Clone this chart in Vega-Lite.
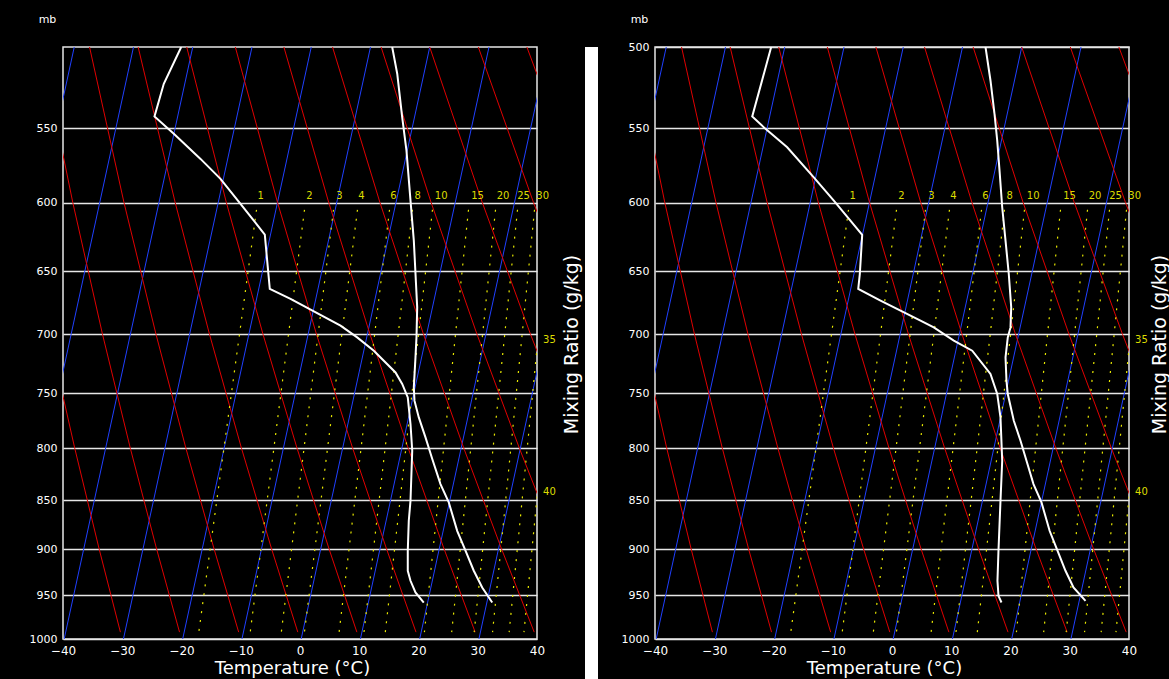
{
  "$schema": "https://vega.github.io/schema/vega-lite/v6.json",
  "background": "black",
  "padding": {"left": 28, "top": 12, "right": 0, "bottom": 0},
  "spacing": 0,
  "bounds": "flush",
  "config": {
    "font": "DejaVu Sans",
    "view": {"stroke": null},
    "axis": {"labelColor": "white", "titleColor": "white", "labelFont": "DejaVu Sans", "titleFont": "DejaVu Sans", "titleFontWeight": "normal", "labelFontSize": 11, "ticks": false, "domain": false, "grid": false, "labelOverlap": false, "labelFlush": false}
  },
  "datasets": {
    "bg": [
      {"k":"iso","id":"i-60","p":1000,"x":-59.8},{"k":"iso","id":"i-60","p":500,"x":-38.1},
      {"k":"iso","id":"i-50","p":1000,"x":-49.8},{"k":"iso","id":"i-50","p":500,"x":-28.1},
      {"k":"iso","id":"i-40","p":1000,"x":-39.8},{"k":"iso","id":"i-40","p":500,"x":-18.1},
      {"k":"iso","id":"i-30","p":1000,"x":-29.8},{"k":"iso","id":"i-30","p":500,"x":-8.1},
      {"k":"iso","id":"i-20","p":1000,"x":-19.8},{"k":"iso","id":"i-20","p":500,"x":1.9},
      {"k":"iso","id":"i-10","p":1000,"x":-9.8},{"k":"iso","id":"i-10","p":500,"x":11.9},
      {"k":"iso","id":"i0","p":1000,"x":0.2},{"k":"iso","id":"i0","p":500,"x":21.9},
      {"k":"iso","id":"i10","p":1000,"x":10.2},{"k":"iso","id":"i10","p":500,"x":31.9},
      {"k":"iso","id":"i20","p":1000,"x":20.2},{"k":"iso","id":"i20","p":500,"x":41.9},
      {"k":"iso","id":"i30","p":1000,"x":30.2},{"k":"iso","id":"i30","p":500,"x":51.9},
      {"k":"iso","id":"i40","p":1000,"x":40.2},{"k":"iso","id":"i40","p":500,"x":61.9},

      {"k":"dry","id":"d-30","p":992,"x":-30.31},{"k":"dry","id":"d-30","p":900,"x":-33.90},{"k":"dry","id":"d-30","p":800,"x":-38.01},{"k":"dry","id":"d-30","p":700,"x":-42.36},{"k":"dry","id":"d-30","p":600,"x":-46.99},{"k":"dry","id":"d-30","p":500,"x":-51.93},
      {"k":"dry","id":"d-20","p":992,"x":-20.33},{"k":"dry","id":"d-20","p":900,"x":-24.20},{"k":"dry","id":"d-20","p":800,"x":-28.63},{"k":"dry","id":"d-20","p":700,"x":-33.33},{"k":"dry","id":"d-20","p":600,"x":-38.34},{"k":"dry","id":"d-20","p":500,"x":-43.72},
      {"k":"dry","id":"d-10","p":992,"x":-10.35},{"k":"dry","id":"d-10","p":900,"x":-14.50},{"k":"dry","id":"d-10","p":800,"x":-19.25},{"k":"dry","id":"d-10","p":700,"x":-24.30},{"k":"dry","id":"d-10","p":600,"x":-29.70},{"k":"dry","id":"d-10","p":500,"x":-35.52},
      {"k":"dry","id":"d0","p":992,"x":-0.37},{"k":"dry","id":"d0","p":900,"x":-4.79},{"k":"dry","id":"d0","p":800,"x":-9.87},{"k":"dry","id":"d0","p":700,"x":-15.27},{"k":"dry","id":"d0","p":600,"x":-21.06},{"k":"dry","id":"d0","p":500,"x":-27.32},
      {"k":"dry","id":"d10","p":992,"x":9.60},{"k":"dry","id":"d10","p":900,"x":4.91},{"k":"dry","id":"d10","p":800,"x":-0.49},{"k":"dry","id":"d10","p":700,"x":-6.24},{"k":"dry","id":"d10","p":600,"x":-12.42},{"k":"dry","id":"d10","p":500,"x":-19.12},
      {"k":"dry","id":"d20","p":992,"x":19.58},{"k":"dry","id":"d20","p":900,"x":14.61},{"k":"dry","id":"d20","p":800,"x":8.90},{"k":"dry","id":"d20","p":700,"x":2.79},{"k":"dry","id":"d20","p":600,"x":-3.78},{"k":"dry","id":"d20","p":500,"x":-10.92},
      {"k":"dry","id":"d30","p":992,"x":29.56},{"k":"dry","id":"d30","p":900,"x":24.32},{"k":"dry","id":"d30","p":800,"x":18.28},{"k":"dry","id":"d30","p":700,"x":11.82},{"k":"dry","id":"d30","p":600,"x":4.86},{"k":"dry","id":"d30","p":500,"x":-2.72},
      {"k":"dry","id":"d40","p":992,"x":39.53},{"k":"dry","id":"d40","p":900,"x":34.02},{"k":"dry","id":"d40","p":800,"x":27.66},{"k":"dry","id":"d40","p":700,"x":20.85},{"k":"dry","id":"d40","p":600,"x":13.50},{"k":"dry","id":"d40","p":500,"x":5.49},
      {"k":"dry","id":"d50","p":992,"x":49.51},{"k":"dry","id":"d50","p":900,"x":43.72},{"k":"dry","id":"d50","p":800,"x":37.04},{"k":"dry","id":"d50","p":700,"x":29.88},{"k":"dry","id":"d50","p":600,"x":22.14},{"k":"dry","id":"d50","p":500,"x":13.69},
      {"k":"dry","id":"d60","p":992,"x":59.49},{"k":"dry","id":"d60","p":900,"x":53.43},{"k":"dry","id":"d60","p":800,"x":46.42},{"k":"dry","id":"d60","p":700,"x":38.91},{"k":"dry","id":"d60","p":600,"x":30.78},{"k":"dry","id":"d60","p":500,"x":21.89},
      {"k":"dry","id":"d70","p":992,"x":69.47},{"k":"dry","id":"d70","p":900,"x":63.13},{"k":"dry","id":"d70","p":800,"x":55.81},{"k":"dry","id":"d70","p":700,"x":47.94},{"k":"dry","id":"d70","p":600,"x":39.42},{"k":"dry","id":"d70","p":500,"x":30.09},
      {"k":"dry","id":"d80","p":992,"x":79.44},{"k":"dry","id":"d80","p":900,"x":72.83},{"k":"dry","id":"d80","p":800,"x":65.19},{"k":"dry","id":"d80","p":700,"x":56.97},{"k":"dry","id":"d80","p":600,"x":48.06},{"k":"dry","id":"d80","p":500,"x":38.29},

      {"k":"mix","id":"w1","p":992,"x":-17.08},{"k":"mix","id":"w1","p":605,"x":-7.34},
      {"k":"mix","id":"w2","p":992,"x":-8.4},{"k":"mix","id":"w2","p":605,"x":0.76},
      {"k":"mix","id":"w3","p":992,"x":-3.15},{"k":"mix","id":"w3","p":605,"x":5.65},
      {"k":"mix","id":"w4","p":992,"x":0.75},{"k":"mix","id":"w4","p":605,"x":9.70},
      {"k":"mix","id":"w6","p":992,"x":6.6},{"k":"mix","id":"w6","p":605,"x":15.11},
      {"k":"mix","id":"w8","p":992,"x":10.8},{"k":"mix","id":"w8","p":605,"x":18.99},
      {"k":"mix","id":"w10","p":992,"x":14.4},{"k":"mix","id":"w10","p":605,"x":22.36},
      {"k":"mix","id":"w15","p":992,"x":21.0},{"k":"mix","id":"w15","p":605,"x":28.44},
      {"k":"mix","id":"w20","p":992,"x":25.6},{"k":"mix","id":"w20","p":605,"x":33.0},
      {"k":"mix","id":"w25","p":992,"x":29.4},{"k":"mix","id":"w25","p":605,"x":36.71},
      {"k":"mix","id":"w30","p":992,"x":32.5},{"k":"mix","id":"w30","p":605,"x":39.58},
      {"k":"mix","id":"w35","p":992,"x":35.3},{"k":"mix","id":"w35","p":605,"x":42.3},
      {"k":"mix","id":"w40","p":992,"x":37.8},{"k":"mix","id":"w40","p":605,"x":44.7}
    ],
    "labels": [
      {"w":"1","p":595,"x":-6.62},{"w":"2","p":595,"x":1.60},{"w":"3","p":595,"x":6.67},{"w":"4","p":595,"x":10.38},
      {"w":"6","p":595,"x":15.78},{"w":"8","p":595,"x":19.88},{"w":"10","p":595,"x":23.83},{"w":"15","p":595,"x":29.96},
      {"w":"20","p":595,"x":34.26},{"w":"25","p":595,"x":37.72},{"w":"30","p":595,"x":40.96},
      {"w":"35","p":705,"x":42.1},{"w":"40","p":842,"x":42.1}
    ],
    "snd": [
      {"panel":"L","v":"T","p":500,"x":15.56},{"panel":"L","v":"T","p":515.9,"x":16.41},{"panel":"L","v":"T","p":542.9,"x":17.25},{"panel":"L","v":"T","p":564.5,"x":17.97},{"panel":"L","v":"T","p":598.5,"x":18.65},{"panel":"L","v":"T","p":627.2,"x":19.21},{"panel":"L","v":"T","p":678.2,"x":19.78},{"panel":"L","v":"T","p":702.5,"x":19.66},{"panel":"L","v":"T","p":719.1,"x":19.49},{"panel":"L","v":"T","p":744.8,"x":19.21},{"panel":"L","v":"T","p":756.5,"x":19.32},{"panel":"L","v":"T","p":771.5,"x":20.05},{"panel":"L","v":"T","p":789.7,"x":21.18},{"panel":"L","v":"T","p":809.7,"x":22.31},{"panel":"L","v":"T","p":834.1,"x":23.71},{"panel":"L","v":"T","p":852.2,"x":25.11},{"panel":"L","v":"T","p":881,"x":26.53},{"panel":"L","v":"T","p":901.8,"x":27.93},{"panel":"L","v":"T","p":923.2,"x":29.33},{"panel":"L","v":"T","p":941.5,"x":30.75},{"panel":"L","v":"T","p":958.2,"x":32.44},
      {"panel":"L","v":"Td","p":500,"x":-20.05},{"panel":"L","v":"Td","p":522,"x":-22.99},{"panel":"L","v":"Td","p":542.4,"x":-24.56},{"panel":"L","v":"Td","p":553.5,"x":-21.30},{"panel":"L","v":"Td","p":570,"x":-16.79},{"panel":"L","v":"Td","p":583.5,"x":-13.42},{"panel":"L","v":"Td","p":600.8,"x":-10.04},{"panel":"L","v":"Td","p":622.8,"x":-5.94},{"panel":"L","v":"Td","p":642.1,"x":-5.54},{"panel":"L","v":"Td","p":663.7,"x":-5.10},{"panel":"L","v":"Td","p":671.5,"x":-1.60},{"panel":"L","v":"Td","p":692.9,"x":6.84},{"panel":"L","v":"Td","p":702.5,"x":9.65},{"panel":"L","v":"Td","p":713.5,"x":12.46},{"panel":"L","v":"Td","p":731.9,"x":16.12},{"panel":"L","v":"Td","p":741.8,"x":17.25},{"panel":"L","v":"Td","p":753.6,"x":18.19},{"panel":"L","v":"Td","p":777.5,"x":18.65},{"panel":"L","v":"Td","p":802.2,"x":18.94},{"panel":"L","v":"Td","p":850.5,"x":18.65},{"panel":"L","v":"Td","p":870.7,"x":18.36},{"panel":"L","v":"Td","p":901.8,"x":18.19},{"panel":"L","v":"Td","p":923.2,"x":18.19},{"panel":"L","v":"Td","p":934.1,"x":18.65},{"panel":"L","v":"Td","p":947,"x":19.49},{"panel":"L","v":"Td","p":958.2,"x":20.89},
      {"panel":"R","v":"T","p":500,"x":15.78},{"panel":"R","v":"T","p":520,"x":16.62},{"panel":"R","v":"T","p":540.7,"x":17.30},{"panel":"R","v":"T","p":557.9,"x":17.76},{"panel":"R","v":"T","p":580.1,"x":18.19},{"panel":"R","v":"T","p":603.2,"x":18.60},{"panel":"R","v":"T","p":627.2,"x":19.16},{"panel":"R","v":"T","p":652.2,"x":19.71},{"panel":"R","v":"T","p":678.2,"x":20.12},{"panel":"R","v":"T","p":694.3,"x":20.0},{"panel":"R","v":"T","p":702.5,"x":19.54},{"panel":"R","v":"T","p":719.1,"x":19.16},{"panel":"R","v":"T","p":739,"x":19.32},{"panel":"R","v":"T","p":750.6,"x":19.54},{"panel":"R","v":"T","p":774.5,"x":20.56},{"panel":"R","v":"T","p":792.8,"x":21.69},{"panel":"R","v":"T","p":811.6,"x":22.70},{"panel":"R","v":"T","p":834.1,"x":23.88},{"panel":"R","v":"T","p":852.2,"x":25.23},{"panel":"R","v":"T","p":881,"x":26.6},{"panel":"R","v":"T","p":901.8,"x":27.93},{"panel":"R","v":"T","p":923.2,"x":29.28},{"panel":"R","v":"T","p":941.5,"x":30.63},{"panel":"R","v":"T","p":956.3,"x":32.66},
      {"panel":"R","v":"Td","p":500,"x":-20.39},{"panel":"R","v":"Td","p":542.4,"x":-23.59},{"panel":"R","v":"Td","p":550.3,"x":-21.35},{"panel":"R","v":"Td","p":562.3,"x":-17.69},{"panel":"R","v":"Td","p":582.4,"x":-13.20},{"panel":"R","v":"Td","p":598.5,"x":-9.82},{"panel":"R","v":"Td","p":623,"x":-5.03},{"panel":"R","v":"Td","p":652.2,"x":-5.43},{"panel":"R","v":"Td","p":663.7,"x":-5.70},{"panel":"R","v":"Td","p":672.9,"x":-1.94},{"panel":"R","v":"Td","p":688.9,"x":4.81},{"panel":"R","v":"Td","p":694.3,"x":7.05},{"panel":"R","v":"Td","p":705.1,"x":10.43},{"panel":"R","v":"Td","p":713.5,"x":13.54},{"panel":"R","v":"Td","p":733.2,"x":16.62},{"panel":"R","v":"Td","p":750.6,"x":17.76},{"panel":"R","v":"Td","p":771.5,"x":18.31},{"panel":"R","v":"Td","p":811.6,"x":18.60},{"panel":"R","v":"Td","p":850.5,"x":18.31},{"panel":"R","v":"Td","p":901.8,"x":17.97},{"panel":"R","v":"Td","p":934.1,"x":17.80},{"panel":"R","v":"Td","p":950.7,"x":17.97},{"panel":"R","v":"Td","p":958.2,"x":18.48}
    ]
  },
  "hconcat": [
    {
      "width": 474, "height": 592,
      "view": {"fill": "black", "stroke": "#e6e6e6", "strokeWidth": 1.5},
      "resolve": {"axis": {"y": "independent"}},
      "encoding": {
        "x": {"field": "x", "type": "quantitative", "scale": {"domain": [-40, 40], "nice": false, "zero": false},
              "axis": {"orient": "bottom", "values": [-40,-30,-20,-10,0,10,20,30,40], "format": "d", "labelPadding": 6, "labelFontSize": 12, "labelColor": "white", "title": "Temperature (°C)", "titleFontSize": 18, "titleX": 229, "titleY": 34, "titleAlign": "center", "titleBaseline": "alphabetic"}}
      },
      "layer": [
        {
          "data": {"name": "bg"},
          "transform": [{"filter": "datum.k == 'iso'"}],
          "mark": {"type": "line", "clip": true, "color": "#2040ff", "strokeWidth": 1},
          "encoding": {
            "y": {"field": "p", "type": "quantitative", "scale": {"type": "log", "domain": [500, 1000], "reverse": true, "nice": false},
                  "axis": {"values": [550,600,650,700,750,800,850,900,950,1000], "format": "d", "labelPadding": 6, "grid": true, "gridColor": "#e6e6e6", "gridWidth": 1.5, "title": "mb", "titleAngle": 0, "titleX": -16, "titleY": -28, "titleAlign": "center", "titleBaseline": "middle", "titleFontSize": 11}},
            "detail": {"field": "id"},
            "order": {"field": "p"}
          }
        },
        {
          "data": {"name": "bg"},
          "transform": [{"filter": "datum.k == 'dry'"}],
          "mark": {"type": "line", "clip": true, "color": "#e00000", "strokeWidth": 1},
          "encoding": {
            "y": {"field": "p", "type": "quantitative", "scale": {"type": "log", "domain": [500, 1000], "reverse": true, "nice": false}, "axis": null},
            "detail": {"field": "id"},
            "order": {"field": "p"}
          }
        },
        {
          "data": {"name": "bg"},
          "transform": [{"filter": "datum.k == 'mix'"}],
          "mark": {"type": "line", "clip": true, "color": "#e8e800", "strokeWidth": 1.2, "strokeDash": [2, 7]},
          "encoding": {
            "y": {"field": "p", "type": "quantitative", "scale": {"type": "log", "domain": [500, 1000], "reverse": true, "nice": false}, "axis": null},
            "detail": {"field": "id"},
            "order": {"field": "p"}
          }
        },
        {
          "data": {"name": "labels"},
          "mark": {"type": "text", "clip": false, "color": "#dcdc00", "fontSize": 10, "align": "center", "baseline": "middle"},
          "encoding": {
            "y": {"field": "p", "type": "quantitative", "scale": {"type": "log", "domain": [500, 1000], "reverse": true, "nice": false},
                  "axis": {"orient": "right", "labels": false, "ticks": false, "domain": false, "grid": false, "title": "Mixing Ratio (g/kg)", "titleFontSize": 19, "titleAngle": 270, "titleX": 34, "titleY": 297, "titleAlign": "center", "titleBaseline": "middle"}},
            "text": {"field": "w"}
          }
        },
        {
          "data": {"name": "snd"},
          "transform": [{"filter": "datum.panel == 'L'"}],
          "mark": {"type": "line", "clip": true, "color": "white", "strokeWidth": 2},
          "encoding": {
            "y": {"field": "p", "type": "quantitative", "scale": {"type": "log", "domain": [500, 1000], "reverse": true, "nice": false}, "axis": null},
            "detail": {"field": "v"},
            "order": {"field": "p"}
          }
        }
      ]
    },
    {
      "width": 48, "height": 592,
      "data": {"values": [{"a": 1}]},
      "mark": {"type": "point", "opacity": 0}
    },
    {
      "width": 13, "height": 632,
      "view": {"fill": "white", "stroke": null},
      "data": {"values": [{"a": 1}]},
      "mark": {"type": "point", "opacity": 0}
    },
    {
      "width": 57, "height": 592,
      "data": {"values": [{"a": 1}]},
      "mark": {"type": "point", "opacity": 0}
    },
    {
      "width": 474, "height": 592,
      "view": {"fill": "black", "stroke": "#e6e6e6", "strokeWidth": 1.5},
      "resolve": {"axis": {"y": "independent"}},
      "encoding": {
        "x": {"field": "x", "type": "quantitative", "scale": {"domain": [-40, 40], "nice": false, "zero": false},
              "axis": {"orient": "bottom", "values": [-40,-30,-20,-10,0,10,20,30,40], "format": "d", "labelPadding": 6, "labelFontSize": 12, "labelColor": "white", "title": "Temperature (°C)", "titleFontSize": 18, "titleX": 229, "titleY": 34, "titleAlign": "center", "titleBaseline": "alphabetic"}}
      },
      "layer": [
        {
          "data": {"name": "bg"},
          "transform": [{"filter": "datum.k == 'iso'"}],
          "mark": {"type": "line", "clip": true, "color": "#2040ff", "strokeWidth": 1},
          "encoding": {
            "y": {"field": "p", "type": "quantitative", "scale": {"type": "log", "domain": [500, 1000], "reverse": true, "nice": false},
                  "axis": {"values": [500,550,600,650,700,750,800,850,900,950,1000], "format": "d", "labelPadding": 6, "grid": true, "gridColor": "#e6e6e6", "gridWidth": 1.5, "title": "mb", "titleAngle": 0, "titleX": -16, "titleY": -28, "titleAlign": "center", "titleBaseline": "middle", "titleFontSize": 11}},
            "detail": {"field": "id"},
            "order": {"field": "p"}
          }
        },
        {
          "data": {"name": "bg"},
          "transform": [{"filter": "datum.k == 'dry'"}],
          "mark": {"type": "line", "clip": true, "color": "#e00000", "strokeWidth": 1},
          "encoding": {
            "y": {"field": "p", "type": "quantitative", "scale": {"type": "log", "domain": [500, 1000], "reverse": true, "nice": false}, "axis": null},
            "detail": {"field": "id"},
            "order": {"field": "p"}
          }
        },
        {
          "data": {"name": "bg"},
          "transform": [{"filter": "datum.k == 'mix'"}],
          "mark": {"type": "line", "clip": true, "color": "#e8e800", "strokeWidth": 1.2, "strokeDash": [2, 7]},
          "encoding": {
            "y": {"field": "p", "type": "quantitative", "scale": {"type": "log", "domain": [500, 1000], "reverse": true, "nice": false}, "axis": null},
            "detail": {"field": "id"},
            "order": {"field": "p"}
          }
        },
        {
          "data": {"name": "labels"},
          "mark": {"type": "text", "clip": false, "color": "#dcdc00", "fontSize": 10, "align": "center", "baseline": "middle"},
          "encoding": {
            "y": {"field": "p", "type": "quantitative", "scale": {"type": "log", "domain": [500, 1000], "reverse": true, "nice": false},
                  "axis": {"orient": "right", "labels": false, "ticks": false, "domain": false, "grid": false, "title": "Mixing Ratio (g/kg)", "titleFontSize": 19, "titleAngle": 270, "titleX": 30, "titleY": 297, "titleAlign": "center", "titleBaseline": "middle"}},
            "text": {"field": "w"}
          }
        },
        {
          "data": {"name": "snd"},
          "transform": [{"filter": "datum.panel == 'R'"}],
          "mark": {"type": "line", "clip": true, "color": "white", "strokeWidth": 2},
          "encoding": {
            "y": {"field": "p", "type": "quantitative", "scale": {"type": "log", "domain": [500, 1000], "reverse": true, "nice": false}, "axis": null},
            "detail": {"field": "v"},
            "order": {"field": "p"}
          }
        }
      ]
    }
  ]
}
